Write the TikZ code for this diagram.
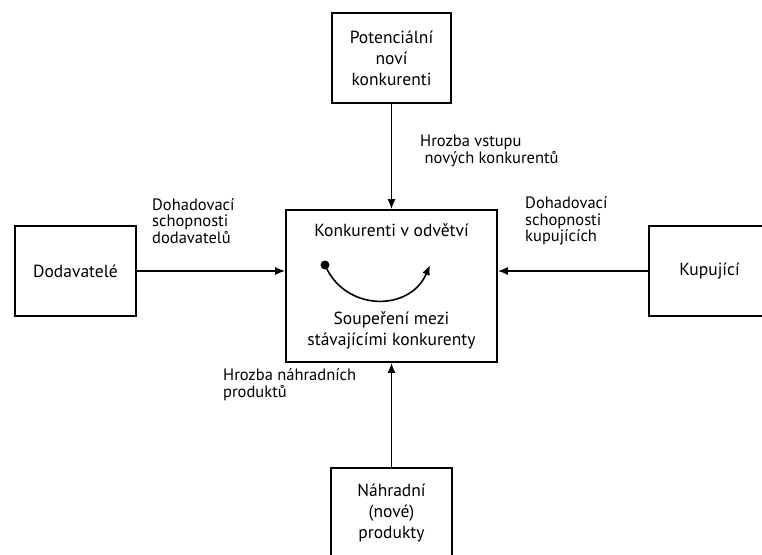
\documentclass[tikz,border=0pt]{standalone}
\usepackage{fontspec}
\setmainfont{PT Sans}
\usetikzlibrary{arrows.meta,calc}

\begin{document}
\begin{tikzpicture}[x=1pt,y=-1pt,
  box/.style={draw,line width=1.6pt,align=center,inner sep=0pt,
    font=\fontsize{17.5}{21}\selectfont},
  lbl/.style={anchor=west,align=left,inner sep=0pt,
    font=\fontsize{16.5}{16.7}\selectfont},
  force/.style={line width=1.6pt,-{Latex[length=10pt,width=8pt]}}]
\useasboundingbox (0,0) rectangle (762,554);

\node[box,minimum width=119pt,minimum height=90pt] (pot) at (391.5,58) {Potenciální\\noví\\konkurenti};
\node[box,minimum width=121pt,minimum height=90pt] (dod) at (75.5,271) {Dodavatelé};
\node[box,minimum width=121pt,minimum height=90pt] (kup) at (709.5,271) {Kupující};
\node[box,minimum width=121pt,minimum height=90pt] (nah) at (391.5,513) {Náhradní\\(nové)\\produkty};
\node[box,minimum width=211pt,minimum height=152pt] (konk) at (391.5,286) {};

\node[box,draw=none] (odv) at (391.5,230) {Konkurenti v odvětví};
\node[box,draw=none] (soup) at (391.5,330) {Soupeření mezi\\stávajícími konkurenty};
\coordinate (cs) at (325,265);
\coordinate (ce) at (430,265);
\fill (cs) circle (4.5);
\draw[force] (cs) .. controls (345,312) and (410,312) .. (ce);

\draw[force] (pot) -- (konk);
\draw[force] (nah) -- (konk);
\draw[force] (dod.east) -- (dod.east -| konk.west);
\draw[force] (kup.west) -- (kup.west -| konk.east);

\node[lbl] (hv) at (420,151) {Hrozba vstupu\\\ nových konkurentů};
\node[lbl] (dd) at (152,221) {Dohadovací\\schopnosti\\dodavatelů};
\node[lbl] (dk) at (525,221) {Dohadovací\\schopnosti\\kupujících};
\node[lbl] (hn) at (223,385) {Hrozba náhradních\\produktů};
\end{tikzpicture}
\end{document}
